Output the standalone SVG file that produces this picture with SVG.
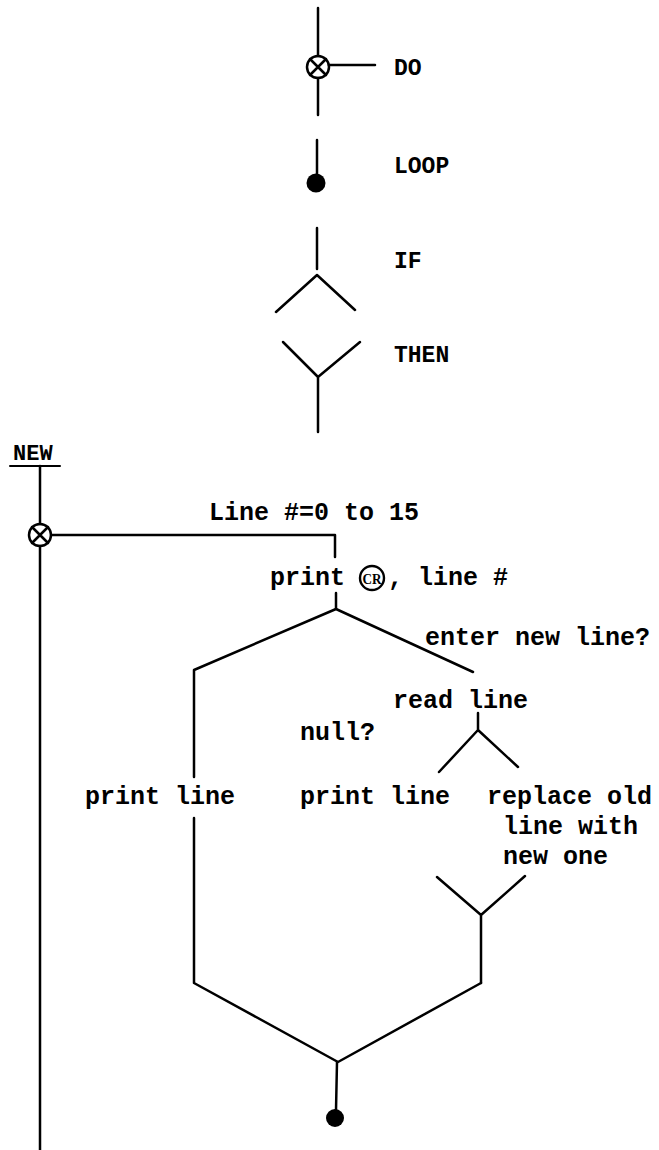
<svg xmlns="http://www.w3.org/2000/svg" width="659" height="1150" viewBox="0 0 659 1150">
<style>
.ln{stroke:#000;stroke-width:2.5;fill:none;stroke-linecap:round;stroke-linejoin:round}
.dot{fill:#000}
.t{font-family:"Liberation Mono",monospace;font-weight:bold;font-size:25px;fill:#000}
.h{font-family:"Liberation Mono",monospace;font-weight:bold;font-size:23px;fill:#000}
.cr{font-family:"Liberation Serif",serif;font-weight:bold;font-size:15px;fill:#000}
</style>
<rect width="659" height="1150" fill="#fff"/>
<g id="legend-do">
<circle class="ln" cx="318" cy="67" r="11"/>
<path class="ln" d="M310,59 L326,75 M326,59 L310,75"/>
<text class="h" x="394" y="75">DO</text>
</g>
<g id="legend-loop">
<circle class="dot" cx="316" cy="183" r="9.5"/>
<text class="h" x="394" y="173">LOOP</text>
</g>
<g id="legend-if">
<text class="h" x="394" y="268">IF</text>
</g>
<g id="legend-then">
<text class="h" x="394" y="362">THEN</text>
</g>
<g id="new-label">
<text class="t" x="13" y="460" style="font-size:22px">NEW</text>
<line class="ln" x1="10" y1="466" x2="60" y2="466" style="stroke-width:2"/>
</g>
<g id="do-loop">
<circle class="ln" cx="40" cy="535" r="11"/>
<path class="ln" d="M32,527 L48,543 M48,527 L32,543"/>
<text class="t" x="209" y="520">Line #=0 to 15</text>
</g>
<g id="print-cr">
<text class="t" x="270" y="585">print</text>
<circle class="ln" cx="372" cy="578" r="12" style="stroke-width:2.4"/>
<text class="cr" x="372" y="583.5" text-anchor="middle" textLength="19" lengthAdjust="spacingAndGlyphs">CR</text>
<text class="t" x="388" y="585">, line #</text>
</g>
<g id="if-enter">
<text class="t" x="425" y="645">enter new line?</text>
</g>
<g id="read-line">
<text class="t" x="393" y="708">read line</text>
</g>
<g id="if-null">
<text class="t" x="300" y="740">null?</text>
</g>
<g id="print-line-left">
<text class="t" x="85" y="804">print line</text>
</g>
<g id="print-line-mid">
<text class="t" x="300" y="804">print line</text>
</g>
<g id="replace">
<text class="t" x="487" y="804">replace old</text>
<text class="t" x="503" y="834">line with</text>
<text class="t" x="503" y="864">new one</text>
</g>
<g id="loop-end">
<circle class="dot" cx="335" cy="1118" r="9"/>
</g>
<g id="connectors">
<path class="ln" d="M318,8 L318,56 M329,65 L375,65 M318,78 L318,115"/>
<path class="ln" d="M317,140 L317,176"/>
<path class="ln" d="M317,228 L317,269 M276,312 L317,275 L355,310"/>
<path class="ln" d="M283,342 L318,377 L360,342 M318,377 L318,432"/>
<path class="ln" d="M40,466 L40,524 M40,546 L40,1150"/>
<path class="ln" d="M51,535 L335,535 L335,557"/>
<path class="ln" d="M336,593 L336,609"/>
<path class="ln" d="M194,777 L194,670 L336,609 L473,672"/>
<path class="ln" d="M478,713 L478,730 M439,772 L478,730 L518,767"/>
<path class="ln" d="M437,877 L481,915 L525,876 M481,915 L481,983"/>
<path class="ln" d="M194,818 L194,983 L338,1062 L481,983"/>
<path class="ln" d="M337,1062 L336,1110"/>
</g>
</svg>
